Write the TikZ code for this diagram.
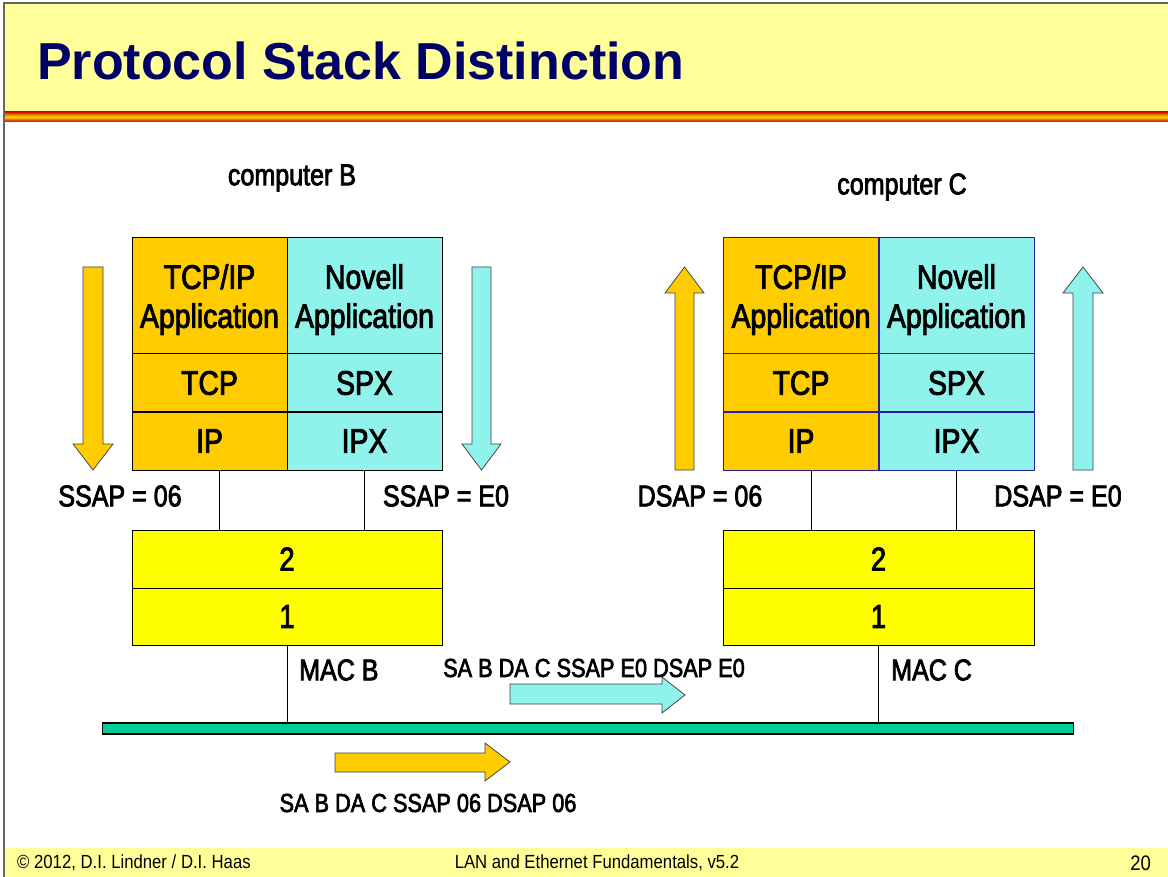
\documentclass[tikz,border=0pt]{standalone}
\usepackage{fontspec}
\setmainfont{Liberation Sans}
\newfontfamily\nar[FakeStretch=0.835, FakeBold=2.5]{Liberation Sans}
\newfontfamily\narf[FakeStretch=0.88]{Liberation Sans}
\definecolor{orng}{RGB}{255,204,0}
\definecolor{cyn}{RGB}{143,243,235}
\definecolor{lyel}{RGB}{255,255,153}
\definecolor{yel}{RGB}{255,255,0}
\definecolor{busc}{RGB}{0,204,153}
\definecolor{navy}{RGB}{0,0,102}
\definecolor{frm}{RGB}{102,102,102}
\definecolor{stkblue}{RGB}{40,30,160}
\definecolor{stripered}{RGB}{204,0,0}
\definecolor{stripemid}{RGB}{255,220,0}
\begin{document}
\begin{tikzpicture}[x=1pt,y=-1pt,
  cell/.style={draw=black, line width=1pt, inner sep=0pt, outer sep=0pt,
    minimum width=155pt, align=center, font=\nar\fontsize{34}{39}\selectfont},
  ocell/.style={cell, fill=orng},
  ccell/.style={cell, fill=cyn},
  appcell/.style={minimum height=116pt, text depth=0pt},
  bluecell/.style={draw=stkblue},
  layer/.style={draw=black, line width=1pt, fill=yel, inner sep=0pt, outer sep=0pt,
    minimum width=310pt, font=\nar\fontsize{33}{38}\selectfont},
  lbl/.style={inner sep=0pt, font=\nar\fontsize{30}{34}\selectfont},
  slbl/.style={inner sep=0pt, font=\nar\fontsize{26}{30}\selectfont},
  foot/.style={inner sep=0pt, font=\narf\fontsize{19}{22}\selectfont},
  wire/.style={draw=black, line width=1pt},
  barrow/.style={draw=black!75, line width=0.75pt}
]
\useasboundingbox (0,0) rectangle (1168,877);
\fill[white] (0,0) rectangle (1168,877);
% title band
\fill[lyel] (5,4.5) rectangle (1168,112);
\shade[top color=stripered, bottom color=stripered, middle color=stripemid] (5,111.5) rectangle (1168,122);
% footer band
\fill[lyel] (5,848) rectangle (1168,877);
% frame
\draw[frm, line width=2pt] (4,877) -- (4,3.5) -- (1168,3.5);
\node[anchor=base west, inner sep=0pt, text=navy, font=\fontsize{52}{60}\selectfont\bfseries] (title) at (37,80) {Protocol Stack Distinction};

% computer B
\node[lbl] (compB) at (292,178) {computer B};
\node[ocell, appcell] (appB) at (209.5,296) {TCP/IP\\Application};
\node[ccell, appcell] (novB) at (364.5,296) {Novell\\Application};
\node[ocell, minimum height=58pt] (tcpB) at (209.5,383) {TCP};
\node[ccell, minimum height=58pt] (spxB) at (364.5,383) {SPX};
\node[ocell, minimum height=58pt] (ipB) at (209.5,441) {IP};
\node[ccell, minimum height=58pt] (ipxB) at (364.5,441) {IPX};
\node[layer, minimum height=58pt] (l2B) at (287,559) {2};
\node[layer, minimum height=57pt] (l1B) at (287,616.5) {1};

% computer C
\node[lbl] (compC) at (902,187) {computer C};
\node[ocell, bluecell, appcell] (appC) at (801,296) {TCP/IP\\Application};
\node[ccell, bluecell, appcell] (novC) at (956.5,296) {Novell\\Application};
\node[ocell, bluecell, minimum height=58pt] (tcpC) at (801,383) {TCP};
\node[ccell, bluecell, minimum height=58pt] (spxC) at (956.5,383) {SPX};
\node[ocell, bluecell, minimum height=58pt] (ipC) at (801,441) {IP};
\node[ccell, bluecell, minimum height=58pt] (ipxC) at (956.5,441) {IPX};
\node[layer, minimum width=311pt, minimum height=58pt] (l2C) at (878.5,559) {2};
\node[layer, minimum width=311pt, minimum height=57pt] (l1C) at (878.5,616.5) {1};

% bus
\node[draw=black, line width=1.5pt, fill=busc, minimum width=971pt, minimum height=11pt, inner sep=0pt, outer sep=0pt] (bus) at (588,728.5) {};

% wires
\draw[wire] ([xshift=9.5pt]ipB.south) -- ([xshift=9.5pt]ipB.south |- l2B.north);
\draw[wire] (ipxB.south) -- (ipxB.south |- l2B.north);
\draw[wire] ([xshift=10pt]ipC.south) -- ([xshift=10pt]ipC.south |- l2C.north);
\draw[wire] (ipxC.south) -- (ipxC.south |- l2C.north);
\draw[wire] (l1B.south) -- (l1B.south |- bus.north);
\draw[wire] (l1C.south) -- (l1C.south |- bus.north);

% SAP labels
\node[lbl] (ssapB1) at (120,496) {SSAP = 06};
\node[lbl] (ssapB2) at (446,496) {SSAP = E0};
\node[lbl] (dsapC1) at (700,496) {DSAP = 06};
\node[lbl] (dsapC2) at (1058,496) {DSAP = E0};
\node[lbl, anchor=west] (macB) at (299,670) {MAC B};
\node[lbl, anchor=west] (macC) at (891,670) {MAC C};

% vertical block arrows
\filldraw[barrow, fill=orng] (83,267) -- (103,267) -- (103,444) -- (113,444) -- (93,470) -- (73,444) -- (83,444) -- cycle;
\filldraw[barrow, fill=cyn] (472,267) -- (491,267) -- (491,444) -- (501,444) -- (481.5,470) -- (462,444) -- (472,444) -- cycle;
\filldraw[barrow, fill=orng] (675,470) -- (694,470) -- (694,293) -- (704,293) -- (684.5,267) -- (665,293) -- (675,293) -- cycle;
\filldraw[barrow, fill=cyn] (1073,470) -- (1093,470) -- (1093,293) -- (1103,293) -- (1083,267) -- (1063,293) -- (1073,293) -- cycle;

% horizontal frame arrows
\filldraw[barrow, fill=cyn] (510,684) -- (662,684) -- (662,677) -- (685,695) -- (662,713) -- (662,704) -- (510,704) -- cycle;
\node[slbl] (frameE0) at (594,668) {SA B DA C SSAP E0 DSAP E0};
\filldraw[barrow, fill=orng] (335,753) -- (485,753) -- (485,743) -- (510,762) -- (485,781) -- (485,772) -- (335,772) -- cycle;
\node[slbl] (frame06) at (428,803) {SA B DA C SSAP 06 DSAP 06};

% footer
\node[foot, anchor=west] (copy) at (17,863) {© 2012, D.I. Lindner / D.I. Haas};
\node[foot] (course) at (597,863) {LAN and Ethernet Fundamentals, v5.2};
\node[foot, anchor=east, font=\narf\fontsize{21}{24}\selectfont] (page) at (1151,863) {20};
\end{tikzpicture}
\end{document}
